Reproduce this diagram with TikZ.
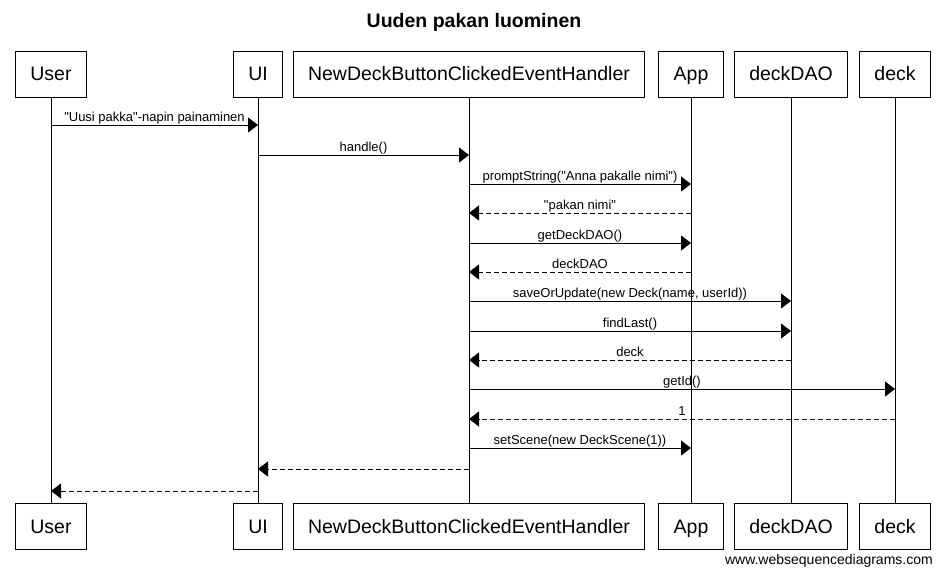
\documentclass[tikz,border=0pt]{standalone}
\usepackage{fontspec}
\setmainfont{Liberation Sans}[Ligatures=TeXOff]
\usetikzlibrary{arrows.meta}
\tikzset{
  actor/.style={draw, line width=1pt, minimum height=46pt, inner xsep=15pt, inner ysep=0pt,
    text height=13.5pt, text depth=0pt, font=\fontsize{19.5}{22}\selectfont},
  life/.style={line width=1pt},
  call/.style={line width=1pt, -{Triangle[length=10pt,width=15pt]}},
  ret/.style={line width=1pt, dash pattern=on 5pt off 3pt, -{Triangle[length=10pt,width=15pt]}},
  lbl/.style={midway, anchor=base, yshift=3.8pt, inner sep=0pt, font=\fontsize{13}{14}\selectfont}
}
\begin{document}
\begin{tikzpicture}[x=1pt,y=-1pt]
\useasboundingbox[fill=white] (0,0) rectangle (945,574);
\node[font=\bfseries\fontsize{19.5}{22}\selectfont, anchor=base, inner sep=0pt] (title) at (474,27) {Uuden pakan luominen};
% top actors
\node[actor] (uT) at (51,74) {User};
\node[actor] (iT) at (258,74) {UI};
\node[actor] (hT) at (469,74) {NewDeckButtonClickedEventHandler};
\node[actor] (aT) at (691,74) {App};
\node[actor] (dT) at (791,74) {deckDAO};
\node[actor] (kT) at (895,74) {deck};
% bottom actors
\node[actor] (uB) at (51,526.5) {User};
\node[actor] (iB) at (258,526.5) {UI};
\node[actor] (hB) at (469,526.5) {NewDeckButtonClickedEventHandler};
\node[actor] (aB) at (691,526.5) {App};
\node[actor] (dB) at (791,526.5) {deckDAO};
\node[actor] (kB) at (895,526.5) {deck};
% lifelines
\draw[life] (uT) -- (uB);
\draw[life] (iT) -- (iB);
\draw[life] (hT) -- (hB);
\draw[life] (aT) -- (aB);
\draw[life] (dT) -- (dB);
\draw[life] (kT) -- (kB);
% message levels
\coordinate (m1) at (0,125);
\coordinate (m2) at (0,155);
\coordinate (m3) at (0,184);
\coordinate (m4) at (0,213);
\coordinate (m5) at (0,243);
\coordinate (m6) at (0,272);
\coordinate (m7) at (0,301);
\coordinate (m8) at (0,331);
\coordinate (m9) at (0,360);
\coordinate (m10) at (0,389);
\coordinate (m11) at (0,419);
\coordinate (m12) at (0,448);
\coordinate (m13) at (0,469);
\coordinate (m14) at (0,491);
% messages
\draw[call] (uT |- m1) -- node[lbl]{"Uusi pakka"-napin painaminen} (iT |- m1);
\draw[call] (iT |- m2) -- node[lbl]{handle()} (hT |- m2);
\draw[call] (hT |- m3) -- node[lbl]{promptString("Anna pakalle nimi")} (aT |- m3);
\draw[ret] (aT |- m4) -- node[lbl]{"pakan nimi"} (hT |- m4);
\draw[call] (hT |- m5) -- node[lbl]{getDeckDAO()} (aT |- m5);
\draw[ret] (aT |- m6) -- node[lbl]{deckDAO} (hT |- m6);
\draw[call] (hT |- m7) -- node[lbl]{saveOrUpdate(new Deck(name, userId))} (dT |- m7);
\draw[call] (hT |- m8) -- node[lbl]{findLast()} (dT |- m8);
\draw[ret] (dT |- m9) -- node[lbl]{deck} (hT |- m9);
\draw[call] (hT |- m10) -- node[lbl]{getId()} (kT |- m10);
\draw[ret] (kT |- m11) -- node[lbl]{1} (hT |- m11);
\draw[call] (hT |- m12) -- node[lbl]{setScene(new DeckScene(1))} (aT |- m12);
\draw[ret] (hT |- m13) -- (iT |- m13);
\draw[ret] (iT |- m14) -- (uT |- m14);
% watermark
\node[anchor=base east, inner sep=0pt, font=\fontsize{14}{16}\selectfont] (wm) at (933,564) {www.websequencediagrams.com};
\end{tikzpicture}
\end{document}
